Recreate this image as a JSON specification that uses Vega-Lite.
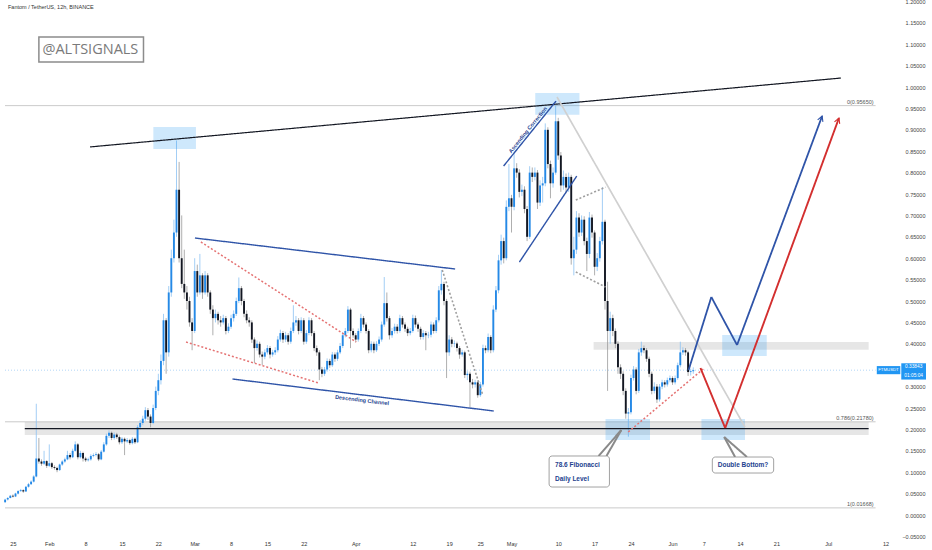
{
  "$schema": "https://vega.github.io/schema/vega-lite/v6.json",
  "description": "FTM/USDT 12h candles with trading annotations",
  "width": 932,
  "height": 538,
  "autosize": {"type": "none"},
  "padding": {"left": 0, "top": 0, "right": 0, "bottom": 12},
  "background": "white",
  "config": {
    "view": {"stroke": null},
    "font": "Liberation Sans",
    "axis": {"labelOverlap": false, "labelFlush": false, "labelBound": false}
  },
  "resolve": {"scale": {"color": "independent", "strokeDash": "independent", "strokeWidth": "independent"}},
  "datasets": {
    "candles": [
      {"t":"2021-01-23T12:00","o":0.030,"h":0.038,"l":0.028,"c":0.036},
      {"t":"2021-01-24T00:00","o":0.036,"h":0.042,"l":0.034,"c":0.040},
      {"t":"2021-01-24T12:00","o":0.040,"h":0.047,"l":0.039,"c":0.045},
      {"t":"2021-01-25T00:00","o":0.045,"h":0.048,"l":0.041,"c":0.043},
      {"t":"2021-01-25T12:00","o":0.043,"h":0.052,"l":0.042,"c":0.050},
      {"t":"2021-01-26T00:00","o":0.050,"h":0.058,"l":0.048,"c":0.056},
      {"t":"2021-01-26T12:00","o":0.056,"h":0.061,"l":0.054,"c":0.058},
      {"t":"2021-01-27T00:00","o":0.058,"h":0.060,"l":0.052,"c":0.055},
      {"t":"2021-01-27T12:00","o":0.055,"h":0.068,"l":0.054,"c":0.066},
      {"t":"2021-01-28T00:00","o":0.066,"h":0.075,"l":0.064,"c":0.072},
      {"t":"2021-01-28T12:00","o":0.072,"h":0.081,"l":0.070,"c":0.078},
      {"t":"2021-01-29T00:00","o":0.078,"h":0.093,"l":0.076,"c":0.090},
      {"t":"2021-01-29T12:00","o":0.090,"h":0.260,"l":0.088,"c":0.132},
      {"t":"2021-01-30T00:00","o":0.132,"h":0.180,"l":0.120,"c":0.125},
      {"t":"2021-01-30T12:00","o":0.125,"h":0.130,"l":0.115,"c":0.120},
      {"t":"2021-01-31T00:00","o":0.120,"h":0.150,"l":0.117,"c":0.126},
      {"t":"2021-01-31T12:00","o":0.126,"h":0.128,"l":0.110,"c":0.115},
      {"t":"2021-02-01T00:00","o":0.115,"h":0.165,"l":0.112,"c":0.121},
      {"t":"2021-02-01T12:00","o":0.121,"h":0.124,"l":0.108,"c":0.112},
      {"t":"2021-02-02T00:00","o":0.112,"h":0.116,"l":0.106,"c":0.110},
      {"t":"2021-02-02T12:00","o":0.110,"h":0.113,"l":0.100,"c":0.105},
      {"t":"2021-02-03T00:00","o":0.105,"h":0.120,"l":0.103,"c":0.118},
      {"t":"2021-02-03T12:00","o":0.118,"h":0.128,"l":0.115,"c":0.125},
      {"t":"2021-02-04T00:00","o":0.125,"h":0.134,"l":0.122,"c":0.130},
      {"t":"2021-02-04T12:00","o":0.130,"h":0.150,"l":0.128,"c":0.140},
      {"t":"2021-02-05T00:00","o":0.140,"h":0.145,"l":0.130,"c":0.135},
      {"t":"2021-02-05T12:00","o":0.135,"h":0.155,"l":0.133,"c":0.150},
      {"t":"2021-02-06T00:00","o":0.150,"h":0.172,"l":0.148,"c":0.165},
      {"t":"2021-02-06T12:00","o":0.165,"h":0.168,"l":0.130,"c":0.135},
      {"t":"2021-02-07T00:00","o":0.135,"h":0.150,"l":0.132,"c":0.145},
      {"t":"2021-02-07T12:00","o":0.145,"h":0.148,"l":0.125,"c":0.132},
      {"t":"2021-02-08T00:00","o":0.132,"h":0.136,"l":0.124,"c":0.128},
      {"t":"2021-02-08T12:00","o":0.128,"h":0.134,"l":0.125,"c":0.130},
      {"t":"2021-02-09T00:00","o":0.130,"h":0.142,"l":0.127,"c":0.138},
      {"t":"2021-02-09T12:00","o":0.138,"h":0.144,"l":0.135,"c":0.140},
      {"t":"2021-02-10T00:00","o":0.140,"h":0.147,"l":0.137,"c":0.142},
      {"t":"2021-02-10T12:00","o":0.142,"h":0.145,"l":0.126,"c":0.130},
      {"t":"2021-02-11T00:00","o":0.130,"h":0.152,"l":0.128,"c":0.148},
      {"t":"2021-02-11T12:00","o":0.148,"h":0.170,"l":0.146,"c":0.165},
      {"t":"2021-02-12T00:00","o":0.165,"h":0.190,"l":0.162,"c":0.185},
      {"t":"2021-02-12T12:00","o":0.185,"h":0.198,"l":0.180,"c":0.192},
      {"t":"2021-02-13T00:00","o":0.192,"h":0.195,"l":0.175,"c":0.180},
      {"t":"2021-02-13T12:00","o":0.180,"h":0.193,"l":0.176,"c":0.188},
      {"t":"2021-02-14T00:00","o":0.188,"h":0.192,"l":0.178,"c":0.182},
      {"t":"2021-02-14T12:00","o":0.182,"h":0.186,"l":0.165,"c":0.170},
      {"t":"2021-02-15T00:00","o":0.170,"h":0.182,"l":0.166,"c":0.178},
      {"t":"2021-02-15T12:00","o":0.178,"h":0.181,"l":0.140,"c":0.172},
      {"t":"2021-02-16T00:00","o":0.172,"h":0.180,"l":0.168,"c":0.175},
      {"t":"2021-02-16T12:00","o":0.175,"h":0.178,"l":0.164,"c":0.168},
      {"t":"2021-02-17T00:00","o":0.168,"h":0.182,"l":0.165,"c":0.178},
      {"t":"2021-02-17T12:00","o":0.178,"h":0.181,"l":0.166,"c":0.170},
      {"t":"2021-02-18T00:00","o":0.170,"h":0.210,"l":0.168,"c":0.205},
      {"t":"2021-02-18T12:00","o":0.205,"h":0.222,"l":0.200,"c":0.215},
      {"t":"2021-02-19T00:00","o":0.215,"h":0.232,"l":0.210,"c":0.225},
      {"t":"2021-02-19T12:00","o":0.225,"h":0.252,"l":0.220,"c":0.245},
      {"t":"2021-02-20T00:00","o":0.245,"h":0.250,"l":0.222,"c":0.230},
      {"t":"2021-02-20T12:00","o":0.230,"h":0.235,"l":0.205,"c":0.215},
      {"t":"2021-02-21T00:00","o":0.215,"h":0.258,"l":0.212,"c":0.250},
      {"t":"2021-02-21T12:00","o":0.250,"h":0.300,"l":0.245,"c":0.290},
      {"t":"2021-02-22T00:00","o":0.290,"h":0.330,"l":0.280,"c":0.315},
      {"t":"2021-02-22T12:00","o":0.315,"h":0.375,"l":0.305,"c":0.360},
      {"t":"2021-02-23T00:00","o":0.360,"h":0.470,"l":0.350,"c":0.455},
      {"t":"2021-02-23T12:00","o":0.455,"h":0.460,"l":0.330,"c":0.380},
      {"t":"2021-02-24T00:00","o":0.380,"h":0.535,"l":0.370,"c":0.520},
      {"t":"2021-02-24T12:00","o":0.520,"h":0.620,"l":0.510,"c":0.600},
      {"t":"2021-02-25T00:00","o":0.600,"h":0.690,"l":0.590,"c":0.660},
      {"t":"2021-02-25T12:00","o":0.660,"h":0.875,"l":0.650,"c":0.760},
      {"t":"2021-02-26T00:00","o":0.760,"h":0.825,"l":0.590,"c":0.600},
      {"t":"2021-02-26T12:00","o":0.600,"h":0.700,"l":0.530,"c":0.540},
      {"t":"2021-02-27T00:00","o":0.540,"h":0.620,"l":0.505,"c":0.520},
      {"t":"2021-02-27T12:00","o":0.520,"h":0.535,"l":0.480,"c":0.500},
      {"t":"2021-02-28T00:00","o":0.500,"h":0.510,"l":0.440,"c":0.450},
      {"t":"2021-02-28T12:00","o":0.450,"h":0.460,"l":0.385,"c":0.430},
      {"t":"2021-03-01T00:00","o":0.430,"h":0.600,"l":0.425,"c":0.570},
      {"t":"2021-03-01T12:00","o":0.570,"h":0.585,"l":0.510,"c":0.520},
      {"t":"2021-03-02T00:00","o":0.520,"h":0.610,"l":0.515,"c":0.560},
      {"t":"2021-03-02T12:00","o":0.560,"h":0.565,"l":0.505,"c":0.520},
      {"t":"2021-03-03T00:00","o":0.520,"h":0.570,"l":0.515,"c":0.560},
      {"t":"2021-03-03T12:00","o":0.560,"h":0.565,"l":0.510,"c":0.520},
      {"t":"2021-03-04T00:00","o":0.520,"h":0.525,"l":0.470,"c":0.480},
      {"t":"2021-03-04T12:00","o":0.480,"h":0.490,"l":0.420,"c":0.460},
      {"t":"2021-03-05T00:00","o":0.460,"h":0.480,"l":0.450,"c":0.470},
      {"t":"2021-03-05T12:00","o":0.470,"h":0.475,"l":0.445,"c":0.455},
      {"t":"2021-03-06T00:00","o":0.455,"h":0.465,"l":0.440,"c":0.450},
      {"t":"2021-03-06T12:00","o":0.450,"h":0.468,"l":0.445,"c":0.460},
      {"t":"2021-03-07T00:00","o":0.460,"h":0.465,"l":0.422,"c":0.430},
      {"t":"2021-03-07T12:00","o":0.430,"h":0.448,"l":0.425,"c":0.440},
      {"t":"2021-03-08T00:00","o":0.440,"h":0.468,"l":0.435,"c":0.460},
      {"t":"2021-03-08T12:00","o":0.460,"h":0.478,"l":0.452,"c":0.470},
      {"t":"2021-03-09T00:00","o":0.470,"h":0.508,"l":0.465,"c":0.500},
      {"t":"2021-03-09T12:00","o":0.500,"h":0.555,"l":0.495,"c":0.530},
      {"t":"2021-03-10T00:00","o":0.530,"h":0.535,"l":0.490,"c":0.500},
      {"t":"2021-03-10T12:00","o":0.500,"h":0.505,"l":0.462,"c":0.470},
      {"t":"2021-03-11T00:00","o":0.470,"h":0.478,"l":0.448,"c":0.455},
      {"t":"2021-03-11T12:00","o":0.455,"h":0.462,"l":0.440,"c":0.450},
      {"t":"2021-03-12T00:00","o":0.450,"h":0.455,"l":0.402,"c":0.410},
      {"t":"2021-03-12T12:00","o":0.410,"h":0.415,"l":0.355,"c":0.390},
      {"t":"2021-03-13T00:00","o":0.390,"h":0.408,"l":0.384,"c":0.400},
      {"t":"2021-03-13T12:00","o":0.400,"h":0.405,"l":0.368,"c":0.375},
      {"t":"2021-03-14T00:00","o":0.375,"h":0.382,"l":0.350,"c":0.370},
      {"t":"2021-03-14T12:00","o":0.370,"h":0.387,"l":0.364,"c":0.380},
      {"t":"2021-03-15T00:00","o":0.380,"h":0.397,"l":0.375,"c":0.390},
      {"t":"2021-03-15T12:00","o":0.390,"h":0.395,"l":0.366,"c":0.375},
      {"t":"2021-03-16T00:00","o":0.375,"h":0.386,"l":0.370,"c":0.380},
      {"t":"2021-03-16T12:00","o":0.380,"h":0.392,"l":0.374,"c":0.385},
      {"t":"2021-03-17T00:00","o":0.385,"h":0.418,"l":0.380,"c":0.410},
      {"t":"2021-03-17T12:00","o":0.410,"h":0.433,"l":0.405,"c":0.425},
      {"t":"2021-03-18T00:00","o":0.425,"h":0.430,"l":0.402,"c":0.410},
      {"t":"2021-03-18T12:00","o":0.410,"h":0.428,"l":0.404,"c":0.420},
      {"t":"2021-03-19T00:00","o":0.420,"h":0.425,"l":0.398,"c":0.405},
      {"t":"2021-03-19T12:00","o":0.405,"h":0.438,"l":0.400,"c":0.430},
      {"t":"2021-03-20T00:00","o":0.430,"h":0.490,"l":0.425,"c":0.450},
      {"t":"2021-03-20T12:00","o":0.450,"h":0.465,"l":0.442,"c":0.455},
      {"t":"2021-03-21T00:00","o":0.455,"h":0.460,"l":0.422,"c":0.430},
      {"t":"2021-03-21T12:00","o":0.430,"h":0.462,"l":0.425,"c":0.455},
      {"t":"2021-03-22T00:00","o":0.455,"h":0.460,"l":0.398,"c":0.405},
      {"t":"2021-03-22T12:00","o":0.405,"h":0.432,"l":0.400,"c":0.425},
      {"t":"2021-03-23T00:00","o":0.425,"h":0.462,"l":0.420,"c":0.455},
      {"t":"2021-03-23T12:00","o":0.455,"h":0.460,"l":0.418,"c":0.425},
      {"t":"2021-03-24T00:00","o":0.425,"h":0.430,"l":0.383,"c":0.390},
      {"t":"2021-03-24T12:00","o":0.390,"h":0.396,"l":0.372,"c":0.380},
      {"t":"2021-03-25T00:00","o":0.380,"h":0.385,"l":0.315,"c":0.340},
      {"t":"2021-03-25T12:00","o":0.340,"h":0.346,"l":0.322,"c":0.330},
      {"t":"2021-03-26T00:00","o":0.330,"h":0.346,"l":0.325,"c":0.340},
      {"t":"2021-03-26T12:00","o":0.340,"h":0.366,"l":0.335,"c":0.360},
      {"t":"2021-03-27T00:00","o":0.360,"h":0.365,"l":0.344,"c":0.350},
      {"t":"2021-03-27T12:00","o":0.350,"h":0.381,"l":0.346,"c":0.375},
      {"t":"2021-03-28T00:00","o":0.375,"h":0.380,"l":0.358,"c":0.365},
      {"t":"2021-03-28T12:00","o":0.365,"h":0.386,"l":0.360,"c":0.380},
      {"t":"2021-03-29T00:00","o":0.380,"h":0.402,"l":0.376,"c":0.395},
      {"t":"2021-03-29T12:00","o":0.395,"h":0.427,"l":0.390,"c":0.420},
      {"t":"2021-03-30T00:00","o":0.420,"h":0.437,"l":0.415,"c":0.430},
      {"t":"2021-03-30T12:00","o":0.430,"h":0.488,"l":0.425,"c":0.480},
      {"t":"2021-03-31T00:00","o":0.480,"h":0.484,"l":0.390,"c":0.430},
      {"t":"2021-03-31T12:00","o":0.430,"h":0.436,"l":0.414,"c":0.420},
      {"t":"2021-04-01T00:00","o":0.420,"h":0.425,"l":0.404,"c":0.410},
      {"t":"2021-04-01T12:00","o":0.410,"h":0.436,"l":0.405,"c":0.430},
      {"t":"2021-04-02T00:00","o":0.430,"h":0.470,"l":0.425,"c":0.460},
      {"t":"2021-04-02T12:00","o":0.460,"h":0.465,"l":0.438,"c":0.445},
      {"t":"2021-04-03T00:00","o":0.445,"h":0.450,"l":0.424,"c":0.430},
      {"t":"2021-04-03T12:00","o":0.430,"h":0.434,"l":0.378,"c":0.385},
      {"t":"2021-04-04T00:00","o":0.385,"h":0.406,"l":0.380,"c":0.400},
      {"t":"2021-04-04T12:00","o":0.400,"h":0.405,"l":0.378,"c":0.385},
      {"t":"2021-04-05T00:00","o":0.385,"h":0.406,"l":0.381,"c":0.400},
      {"t":"2021-04-05T12:00","o":0.400,"h":0.417,"l":0.395,"c":0.410},
      {"t":"2021-04-06T00:00","o":0.410,"h":0.452,"l":0.405,"c":0.445},
      {"t":"2021-04-06T12:00","o":0.445,"h":0.556,"l":0.440,"c":0.495},
      {"t":"2021-04-07T00:00","o":0.495,"h":0.520,"l":0.452,"c":0.460},
      {"t":"2021-04-07T12:00","o":0.460,"h":0.465,"l":0.410,"c":0.420},
      {"t":"2021-04-08T00:00","o":0.420,"h":0.437,"l":0.414,"c":0.430},
      {"t":"2021-04-08T12:00","o":0.430,"h":0.447,"l":0.424,"c":0.440},
      {"t":"2021-04-09T00:00","o":0.440,"h":0.446,"l":0.424,"c":0.430},
      {"t":"2021-04-09T12:00","o":0.430,"h":0.468,"l":0.426,"c":0.460},
      {"t":"2021-04-10T00:00","o":0.460,"h":0.465,"l":0.438,"c":0.445},
      {"t":"2021-04-10T12:00","o":0.445,"h":0.450,"l":0.428,"c":0.435},
      {"t":"2021-04-11T00:00","o":0.435,"h":0.440,"l":0.418,"c":0.425},
      {"t":"2021-04-11T12:00","o":0.425,"h":0.437,"l":0.420,"c":0.430},
      {"t":"2021-04-12T00:00","o":0.430,"h":0.468,"l":0.426,"c":0.460},
      {"t":"2021-04-12T12:00","o":0.460,"h":0.466,"l":0.438,"c":0.445},
      {"t":"2021-04-13T00:00","o":0.445,"h":0.450,"l":0.428,"c":0.435},
      {"t":"2021-04-13T12:00","o":0.435,"h":0.440,"l":0.410,"c":0.416},
      {"t":"2021-04-14T00:00","o":0.416,"h":0.432,"l":0.410,"c":0.425},
      {"t":"2021-04-14T12:00","o":0.425,"h":0.430,"l":0.385,"c":0.420},
      {"t":"2021-04-15T00:00","o":0.420,"h":0.428,"l":0.413,"c":0.421},
      {"t":"2021-04-15T12:00","o":0.421,"h":0.452,"l":0.415,"c":0.445},
      {"t":"2021-04-16T00:00","o":0.445,"h":0.450,"l":0.424,"c":0.430},
      {"t":"2021-04-16T12:00","o":0.430,"h":0.462,"l":0.425,"c":0.455},
      {"t":"2021-04-17T00:00","o":0.455,"h":0.535,"l":0.450,"c":0.525},
      {"t":"2021-04-17T12:00","o":0.525,"h":0.572,"l":0.515,"c":0.540},
      {"t":"2021-04-18T00:00","o":0.540,"h":0.545,"l":0.490,"c":0.500},
      {"t":"2021-04-18T12:00","o":0.500,"h":0.505,"l":0.320,"c":0.380},
      {"t":"2021-04-19T00:00","o":0.380,"h":0.420,"l":0.372,"c":0.410},
      {"t":"2021-04-19T12:00","o":0.410,"h":0.416,"l":0.392,"c":0.400},
      {"t":"2021-04-20T00:00","o":0.400,"h":0.408,"l":0.392,"c":0.401},
      {"t":"2021-04-20T12:00","o":0.401,"h":0.405,"l":0.382,"c":0.390},
      {"t":"2021-04-21T00:00","o":0.390,"h":0.395,"l":0.365,"c":0.375},
      {"t":"2021-04-21T12:00","o":0.375,"h":0.386,"l":0.370,"c":0.380},
      {"t":"2021-04-22T00:00","o":0.380,"h":0.384,"l":0.320,"c":0.327},
      {"t":"2021-04-22T12:00","o":0.327,"h":0.336,"l":0.315,"c":0.330},
      {"t":"2021-04-23T00:00","o":0.330,"h":0.335,"l":0.250,"c":0.310},
      {"t":"2021-04-23T12:00","o":0.310,"h":0.318,"l":0.296,"c":0.305},
      {"t":"2021-04-24T00:00","o":0.305,"h":0.316,"l":0.298,"c":0.310},
      {"t":"2021-04-24T12:00","o":0.310,"h":0.314,"l":0.274,"c":0.280},
      {"t":"2021-04-25T00:00","o":0.280,"h":0.311,"l":0.276,"c":0.305},
      {"t":"2021-04-25T12:00","o":0.305,"h":0.398,"l":0.300,"c":0.390},
      {"t":"2021-04-26T00:00","o":0.390,"h":0.396,"l":0.378,"c":0.385},
      {"t":"2021-04-26T12:00","o":0.385,"h":0.424,"l":0.380,"c":0.416},
      {"t":"2021-04-27T00:00","o":0.416,"h":0.420,"l":0.378,"c":0.385},
      {"t":"2021-04-27T12:00","o":0.385,"h":0.490,"l":0.380,"c":0.480},
      {"t":"2021-04-28T00:00","o":0.480,"h":0.535,"l":0.474,"c":0.525},
      {"t":"2021-04-28T12:00","o":0.525,"h":0.608,"l":0.518,"c":0.595},
      {"t":"2021-04-29T00:00","o":0.595,"h":0.655,"l":0.585,"c":0.640},
      {"t":"2021-04-29T12:00","o":0.640,"h":0.648,"l":0.588,"c":0.600},
      {"t":"2021-04-30T00:00","o":0.600,"h":0.735,"l":0.595,"c":0.720},
      {"t":"2021-04-30T12:00","o":0.720,"h":0.820,"l":0.710,"c":0.740},
      {"t":"2021-05-01T00:00","o":0.740,"h":0.748,"l":0.660,"c":0.720},
      {"t":"2021-05-01T12:00","o":0.720,"h":0.845,"l":0.712,"c":0.810},
      {"t":"2021-05-02T00:00","o":0.810,"h":0.822,"l":0.788,"c":0.800},
      {"t":"2021-05-02T12:00","o":0.800,"h":0.808,"l":0.742,"c":0.755},
      {"t":"2021-05-03T00:00","o":0.755,"h":0.772,"l":0.745,"c":0.760},
      {"t":"2021-05-03T12:00","o":0.760,"h":0.768,"l":0.705,"c":0.715},
      {"t":"2021-05-04T00:00","o":0.715,"h":0.722,"l":0.640,"c":0.650},
      {"t":"2021-05-04T12:00","o":0.650,"h":0.815,"l":0.645,"c":0.800},
      {"t":"2021-05-05T00:00","o":0.800,"h":0.812,"l":0.778,"c":0.790},
      {"t":"2021-05-05T12:00","o":0.790,"h":0.812,"l":0.782,"c":0.800},
      {"t":"2021-05-06T00:00","o":0.800,"h":0.806,"l":0.715,"c":0.730},
      {"t":"2021-05-06T12:00","o":0.730,"h":0.782,"l":0.722,"c":0.770},
      {"t":"2021-05-07T00:00","o":0.770,"h":0.790,"l":0.730,"c":0.775},
      {"t":"2021-05-07T12:00","o":0.775,"h":0.915,"l":0.768,"c":0.900},
      {"t":"2021-05-08T00:00","o":0.900,"h":0.906,"l":0.810,"c":0.820},
      {"t":"2021-05-08T12:00","o":0.820,"h":0.828,"l":0.740,"c":0.775},
      {"t":"2021-05-09T00:00","o":0.775,"h":0.812,"l":0.765,"c":0.800},
      {"t":"2021-05-09T12:00","o":0.800,"h":0.9565,"l":0.795,"c":0.920},
      {"t":"2021-05-10T00:00","o":0.920,"h":0.928,"l":0.830,"c":0.840},
      {"t":"2021-05-10T12:00","o":0.840,"h":0.848,"l":0.755,"c":0.770},
      {"t":"2021-05-11T00:00","o":0.770,"h":0.805,"l":0.760,"c":0.790},
      {"t":"2021-05-11T12:00","o":0.790,"h":0.798,"l":0.752,"c":0.765},
      {"t":"2021-05-12T00:00","o":0.765,"h":0.800,"l":0.755,"c":0.790},
      {"t":"2021-05-12T12:00","o":0.790,"h":0.795,"l":0.585,"c":0.600},
      {"t":"2021-05-13T00:00","o":0.600,"h":0.650,"l":0.560,"c":0.620},
      {"t":"2021-05-13T12:00","o":0.620,"h":0.710,"l":0.610,"c":0.695},
      {"t":"2021-05-14T00:00","o":0.695,"h":0.705,"l":0.650,"c":0.660},
      {"t":"2021-05-14T12:00","o":0.660,"h":0.700,"l":0.652,"c":0.690},
      {"t":"2021-05-15T00:00","o":0.690,"h":0.698,"l":0.630,"c":0.640},
      {"t":"2021-05-15T12:00","o":0.640,"h":0.648,"l":0.570,"c":0.610},
      {"t":"2021-05-16T00:00","o":0.610,"h":0.708,"l":0.600,"c":0.695},
      {"t":"2021-05-16T12:00","o":0.695,"h":0.702,"l":0.648,"c":0.660},
      {"t":"2021-05-17T00:00","o":0.660,"h":0.665,"l":0.560,"c":0.580},
      {"t":"2021-05-17T12:00","o":0.580,"h":0.612,"l":0.570,"c":0.600},
      {"t":"2021-05-18T00:00","o":0.600,"h":0.650,"l":0.592,"c":0.640},
      {"t":"2021-05-18T12:00","o":0.640,"h":0.766,"l":0.632,"c":0.685},
      {"t":"2021-05-19T00:00","o":0.685,"h":0.690,"l":0.480,"c":0.500},
      {"t":"2021-05-19T12:00","o":0.500,"h":0.545,"l":0.290,"c":0.430},
      {"t":"2021-05-20T00:00","o":0.430,"h":0.475,"l":0.400,"c":0.460},
      {"t":"2021-05-20T12:00","o":0.460,"h":0.468,"l":0.418,"c":0.430},
      {"t":"2021-05-21T00:00","o":0.430,"h":0.436,"l":0.390,"c":0.400},
      {"t":"2021-05-21T12:00","o":0.400,"h":0.406,"l":0.330,"c":0.345},
      {"t":"2021-05-22T00:00","o":0.345,"h":0.352,"l":0.318,"c":0.330},
      {"t":"2021-05-22T12:00","o":0.330,"h":0.336,"l":0.280,"c":0.290},
      {"t":"2021-05-23T00:00","o":0.290,"h":0.296,"l":0.225,"c":0.237},
      {"t":"2021-05-23T12:00","o":0.237,"h":0.250,"l":0.183,"c":0.240},
      {"t":"2021-05-24T00:00","o":0.240,"h":0.328,"l":0.235,"c":0.320},
      {"t":"2021-05-24T12:00","o":0.320,"h":0.348,"l":0.314,"c":0.340},
      {"t":"2021-05-25T00:00","o":0.340,"h":0.345,"l":0.282,"c":0.290},
      {"t":"2021-05-25T12:00","o":0.290,"h":0.388,"l":0.285,"c":0.380},
      {"t":"2021-05-26T00:00","o":0.380,"h":0.405,"l":0.372,"c":0.390},
      {"t":"2021-05-26T12:00","o":0.390,"h":0.396,"l":0.378,"c":0.385},
      {"t":"2021-05-27T00:00","o":0.385,"h":0.390,"l":0.358,"c":0.365},
      {"t":"2021-05-27T12:00","o":0.365,"h":0.370,"l":0.322,"c":0.330},
      {"t":"2021-05-28T00:00","o":0.330,"h":0.335,"l":0.282,"c":0.290},
      {"t":"2021-05-28T12:00","o":0.290,"h":0.310,"l":0.284,"c":0.300},
      {"t":"2021-05-29T00:00","o":0.300,"h":0.306,"l":0.262,"c":0.270},
      {"t":"2021-05-29T12:00","o":0.270,"h":0.306,"l":0.265,"c":0.300},
      {"t":"2021-05-30T00:00","o":0.300,"h":0.316,"l":0.294,"c":0.310},
      {"t":"2021-05-30T12:00","o":0.310,"h":0.315,"l":0.298,"c":0.305},
      {"t":"2021-05-31T00:00","o":0.305,"h":0.321,"l":0.300,"c":0.315},
      {"t":"2021-05-31T12:00","o":0.315,"h":0.326,"l":0.310,"c":0.320},
      {"t":"2021-06-01T00:00","o":0.320,"h":0.324,"l":0.304,"c":0.310},
      {"t":"2021-06-01T12:00","o":0.310,"h":0.326,"l":0.305,"c":0.320},
      {"t":"2021-06-02T00:00","o":0.320,"h":0.356,"l":0.316,"c":0.350},
      {"t":"2021-06-02T12:00","o":0.350,"h":0.405,"l":0.345,"c":0.380},
      {"t":"2021-06-03T00:00","o":0.380,"h":0.392,"l":0.374,"c":0.385},
      {"t":"2021-06-03T12:00","o":0.385,"h":0.390,"l":0.372,"c":0.380},
      {"t":"2021-06-04T00:00","o":0.380,"h":0.384,"l":0.325,"c":0.334},
      {"t":"2021-06-04T12:00","o":0.334,"h":0.342,"l":0.326,"c":0.336},
      {"t":"2021-06-05T00:00","o":0.336,"h":0.345,"l":0.330,"c":0.3384}
    ],
    "segments": [
      {"kind":"trend","t":"2021-02-08T20:34","v":0.860,"t2":"2021-07-03T10:17","v2":1.021},
      {"kind":"support","t":"2021-01-27T06:51","v":0.202,"t2":"2021-07-08T18:17","v2":0.202},
      {"kind":"fib","t":"2021-01-23T11:26","v":0.9565,"t2":"2021-07-10T02:24","v2":0.9565},
      {"kind":"fib","t":"2021-01-23T11:26","v":0.2178,"t2":"2021-07-10T02:24","v2":0.2178},
      {"kind":"fib","t":"2021-01-23T11:26","v":0.01668,"t2":"2021-07-10T02:24","v2":0.01668},
      {"kind":"price","t":"2021-01-23T11:26","v":0.3384,"t2":"2021-07-10T02:24","v2":0.3384},
      {"kind":"channel","t":"2021-03-01T01:10","v":0.6472,"t2":"2021-04-20T03:26","v2":0.5748},
      {"kind":"channel","t":"2021-03-08T06:51","v":0.3178,"t2":"2021-04-27T13:43","v2":0.2430},
      {"kind":"channel","t":"2021-04-29T11:26","v":0.8154,"t2":"2021-05-09T13:43","v2":0.9670},
      {"kind":"channel","t":"2021-05-02T12:34","v":0.5910,"t2":"2021-05-13T13:43","v2":0.7920},
      {"kind":"redDot","t":"2021-03-02T04:34","v":0.6379,"t2":"2021-04-01T02:24","v2":0.4042},
      {"kind":"redDot","t":"2021-02-27T08:00","v":0.4042,"t2":"2021-03-24T20:34","v2":0.3084},
      {"kind":"redDot","t":"2021-05-23T11:26","v":0.1940,"t2":"2021-06-07T03:26","v2":0.3435},
      {"kind":"grayDot","t":"2021-04-17T16:00","v":0.5724,"t2":"2021-04-25T11:26","v2":0.2804},
      {"kind":"grayDot","t":"2021-05-13T09:10","v":0.7360,"t2":"2021-05-19T02:24","v2":0.7660},
      {"kind":"grayDot","t":"2021-05-13T09:10","v":0.5678,"t2":"2021-05-19T02:24","v2":0.5327},
      {"kind":"grayThin","t":"2021-05-09T18:17","v":0.9766,"t2":"2021-06-14T22:51","v2":0.2056},
      {"kind":"projBlue","t":"2021-06-04T02:24","v":0.3388,"t2":"2021-06-08T11:26","v2":0.5093},
      {"kind":"projBlue","t":"2021-06-08T11:26","v":0.5093,"t2":"2021-06-13T10:17","v2":0.3972},
      {"kind":"projBlue","t":"2021-06-13T10:17","v":0.3972,"t2":"2021-06-29T19:26","v2":0.9322},
      {"kind":"projRed","t":"2021-06-06T09:09","v":0.3435,"t2":"2021-06-11T03:26","v2":0.2033},
      {"kind":"projRed","t":"2021-06-11T03:26","v":0.2033,"t2":"2021-07-03T01:10","v2":0.9276},
      {"kind":"callout","t":"2021-05-22T03:26","v":0.1986,"t2":"2021-05-17T18:17","v2":0.1379},
      {"kind":"callout","t":"2021-05-22T03:26","v":0.1986,"t2":"2021-05-19T06:51","v2":0.1379},
      {"kind":"callout","t":"2021-06-10T22:51","v":0.1822,"t2":"2021-06-13T01:10","v2":0.1355},
      {"kind":"callout","t":"2021-06-10T22:51","v":0.1822,"t2":"2021-06-15T08:00","v2":0.1355}
    ],
    "arrows": [
      {"kind":"projBlue","t":"2021-06-29T19:26","v":0.9322},
      {"kind":"projRed","t":"2021-07-03T01:10","v":0.9276}
    ],
    "boxes": [
      {"kind":"band","t":"2021-01-27T06:51","v":0.187,"t2":"2021-07-08T18:17","v2":0.2173},
      {"kind":"band","t":"2021-05-16T19:25","v":0.386,"t2":"2021-07-08T18:17","v2":0.404},
      {"kind":"hl","t":"2021-02-21T01:00","v":0.855,"t2":"2021-03-01T05:45","v2":0.9065},
      {"kind":"hl","t":"2021-05-05T13:40","v":0.935,"t2":"2021-05-14T02:00","v2":0.986},
      {"kind":"hl","t":"2021-05-19T02:24","v":0.1752,"t2":"2021-05-27T16:00","v2":0.2243},
      {"kind":"hl","t":"2021-06-06T13:40","v":0.1752,"t2":"2021-06-14T22:51","v2":0.2243},
      {"kind":"hl","t":"2021-06-10T13:40","v":0.3715,"t2":"2021-06-19T03:26","v2":0.4206},
      {"kind":"logo","t":"2021-01-30T00:00","v":1.0584,"t2":"2021-02-19T03:25","v2":1.1168},
      {"kind":"callout","t":"2021-05-08T05:43","v":0.0654,"t2":"2021-05-19T20:34","v2":0.1379},
      {"kind":"callout","t":"2021-06-08T16:00","v":0.0981,"t2":"2021-06-20T11:26","v2":0.1355},
      {"kind":"tag","t":"2021-07-10T08:00","v":0.329,"t2":"2021-07-14T20:38","v2":0.348},
      {"kind":"tag","t":"2021-07-15T01:10","v":0.3165,"t2":"2021-07-19T19:26","v2":0.3545}
    ],
    "texts": [
      {"kind":"title","t":"2021-01-24T01:08","v":1.187,"text":"Fantom / TetherUS, 12h, BINANCE"},
      {"kind":"logo","t":"2021-02-08T22:00","v":1.0876,"text":"@ALTSIGNALS"},
      {"kind":"fib","t":"2021-07-09T17:09","v":0.9565,"text":"0(0.95650)"},
      {"kind":"fib","t":"2021-07-09T17:09","v":0.2178,"text":"0.786(0.21780)"},
      {"kind":"fib","t":"2021-07-09T17:09","v":0.01668,"text":"1(0.01668)"},
      {"kind":"asc","t":"2021-05-04T03:00","v":0.900,"text":"Ascending Correction"},
      {"kind":"desc","t":"2021-04-02T05:43","v":0.2687,"text":"Descending Channel"},
      {"kind":"noteLeft","t":"2021-05-09T09:10","v":0.1168,"text":"78.6 Fibonacci"},
      {"kind":"noteLeft","t":"2021-05-09T09:10","v":0.0841,"text":"Daily Level"},
      {"kind":"noteCenter","t":"2021-06-14T13:43","v":0.1168,"text":"Double Bottom?"},
      {"kind":"tagSmall","t":"2021-07-12T14:00","v":0.3388,"text":"FTMUSDT"},
      {"kind":"tag","t":"2021-07-17T10:17","v":0.3450,"text":"0.33843"},
      {"kind":"tag","t":"2021-07-17T10:17","v":0.3258,"text":"01:05:04"}
    ]
  },
  "layer": [
    {
      "data": {"name": "boxes"},
      "transform": [{"filter": "datum.kind == 'band'"}],
      "mark": {"type": "rect", "fill": "#d6d6d6", "opacity": 0.6},
      "encoding": {
        "x": {
          "field": "t",
          "type": "temporal",
          "scale": {"domain": [{"year": 2021, "month": 1, "date": 23, "hours": 11, "minutes": 26}, {"year": 2021, "month": 7, "date": 20}]},
          "axis": {
            "title": null,
            "values": [
              {"year": 2021, "month": 1, "date": 25}, {"year": 2021, "month": 2, "date": 1},
              {"year": 2021, "month": 2, "date": 8}, {"year": 2021, "month": 2, "date": 15},
              {"year": 2021, "month": 2, "date": 22}, {"year": 2021, "month": 3, "date": 1},
              {"year": 2021, "month": 3, "date": 8}, {"year": 2021, "month": 3, "date": 15},
              {"year": 2021, "month": 3, "date": 22}, {"year": 2021, "month": 4, "date": 1},
              {"year": 2021, "month": 4, "date": 12}, {"year": 2021, "month": 4, "date": 19},
              {"year": 2021, "month": 4, "date": 25}, {"year": 2021, "month": 5, "date": 1},
              {"year": 2021, "month": 5, "date": 10}, {"year": 2021, "month": 5, "date": 17},
              {"year": 2021, "month": 5, "date": 24}, {"year": 2021, "month": 6, "date": 1},
              {"year": 2021, "month": 6, "date": 7}, {"year": 2021, "month": 6, "date": 14},
              {"year": 2021, "month": 6, "date": 21}, {"year": 2021, "month": 7, "date": 1},
              {"year": 2021, "month": 7, "date": 12}
            ],
            "tickCount": 40,
            "labelExpr": "date(datum.value) == 1 ? timeFormat(datum.value, '%b') : timeFormat(datum.value, '%-d')",
            "labelFontSize": 5.5,
            "labelColor": "#333333",
            "labelPadding": 3,
            "labelOverlap": false,
            "labelFlush": false,
            "ticks": false,
            "domain": false,
            "grid": false
          }
        },
        "x2": {"field": "t2"},
        "y": {
          "field": "v",
          "type": "quantitative",
          "scale": {"domain": [-0.0537, 1.2033], "nice": false, "zero": false},
          "axis": {
            "title": null,
            "orient": "right",
            "values": [-0.05, 0, 0.05, 0.1, 0.15, 0.2, 0.25, 0.3, 0.35, 0.4, 0.45, 0.5, 0.55, 0.6, 0.65, 0.7, 0.75, 0.8, 0.85, 0.9, 0.95, 1, 1.05, 1.1, 1.15, 1.2],
            "tickCount": 40,
            "format": ".5f",
            "labelAlign": "right",
            "labelPadding": -7,
            "labelFontSize": 5.5,
            "labelColor": "#444444",
            "labelOverlap": false,
            "labelFlush": false,
            "ticks": false,
            "domain": false,
            "grid": false
          }
        },
        "y2": {"field": "v2"}
      }
    },
    {
      "data": {"name": "segments"},
      "transform": [{"filter": "datum.kind == 'fib'"}],
      "mark": {"type": "rule", "color": "#b3b3b3", "strokeWidth": 0.7},
      "encoding": {
        "x": {"field": "t", "type": "temporal"},
        "x2": {"field": "t2"},
        "y": {"field": "v", "type": "quantitative"},
        "y2": {"field": "v2"}
      }
    },
    {
      "data": {"name": "segments"},
      "transform": [{"filter": "datum.kind == 'price'"}],
      "mark": {"type": "rule", "color": "#90c4f4", "strokeWidth": 0.7, "strokeDash": [1, 2]},
      "encoding": {
        "x": {"field": "t", "type": "temporal"},
        "x2": {"field": "t2"},
        "y": {"field": "v", "type": "quantitative"},
        "y2": {"field": "v2"}
      }
    },
    {
      "data": {"name": "candles"},
      "mark": {"type": "rule", "strokeWidth": 0.8},
      "encoding": {
        "x": {"field": "t", "type": "temporal"},
        "y": {"field": "l", "type": "quantitative"},
        "y2": {"field": "h"},
        "color": {"condition": {"test": "datum.c >= datum.o", "value": "#8cc2f2"}, "value": "#9a9a9a"}
      }
    },
    {
      "data": {"name": "candles"},
      "mark": {"type": "bar", "width": 1.9},
      "encoding": {
        "x": {"field": "t", "type": "temporal"},
        "y": {"field": "o", "type": "quantitative"},
        "y2": {"field": "c"},
        "color": {"condition": {"test": "datum.c >= datum.o", "value": "#2589e6"}, "value": "#131722"}
      }
    },
    {
      "data": {"name": "boxes"},
      "transform": [{"filter": "datum.kind == 'hl'"}],
      "mark": {"type": "rect", "fill": "#2196f3", "opacity": 0.22},
      "encoding": {
        "x": {"field": "t", "type": "temporal"},
        "x2": {"field": "t2"},
        "y": {"field": "v", "type": "quantitative"},
        "y2": {"field": "v2"}
      }
    },
    {
      "data": {"name": "segments"},
      "transform": [{"filter": "datum.kind != 'fib' && datum.kind != 'price'"}],
      "mark": {"type": "rule"},
      "encoding": {
        "x": {"field": "t", "type": "temporal"},
        "x2": {"field": "t2"},
        "y": {"field": "v", "type": "quantitative"},
        "y2": {"field": "v2"},
        "color": {
          "field": "kind", "type": "nominal", "legend": null,
          "scale": {
            "domain": ["trend", "support", "channel", "redDot", "grayDot", "grayThin", "projBlue", "projRed", "callout"],
            "range": ["#131722", "#131722", "#2f54a8", "#e57373", "#9e9e9e", "#d0d0d0", "#2f54a8", "#d32f2f", "#8a8a8a"]
          }
        },
        "strokeDash": {
          "field": "kind", "type": "nominal", "legend": null,
          "scale": {
            "domain": ["trend", "support", "channel", "redDot", "grayDot", "grayThin", "projBlue", "projRed", "callout"],
            "range": [[1, 0], [1, 0], [1, 0], [2, 2], [2, 2], [1, 0], [1, 0], [1, 0], [1, 0]]
          }
        },
        "strokeWidth": {
          "field": "kind", "type": "nominal", "legend": null,
          "scale": {
            "domain": ["trend", "support", "channel", "redDot", "grayDot", "grayThin", "projBlue", "projRed", "callout"],
            "range": [1.2, 2, 1.2, 0.8, 0.8, 0.6, 1.1, 1.1, 0.8]
          }
        }
      }
    },
    {
      "data": {"name": "arrows"},
      "transform": [{"filter": "datum.kind == 'projBlue'"}],
      "mark": {"type": "point", "shape": "M-0.7,1.3L0,0L0.7,1.3", "filled": false, "color": "#2f54a8", "strokeWidth": 1.1, "size": 64, "angle": 21, "opacity": 1},
      "encoding": {
        "x": {"field": "t", "type": "temporal"},
        "y": {"field": "v", "type": "quantitative"}
      }
    },
    {
      "data": {"name": "arrows"},
      "transform": [{"filter": "datum.kind == 'projRed'"}],
      "mark": {"type": "point", "shape": "M-0.7,1.3L0,0L0.7,1.3", "filled": false, "color": "#d32f2f", "strokeWidth": 1.1, "size": 64, "angle": 21, "opacity": 1},
      "encoding": {
        "x": {"field": "t", "type": "temporal"},
        "y": {"field": "v", "type": "quantitative"}
      }
    },
    {
      "data": {"name": "boxes"},
      "transform": [{"filter": "datum.kind == 'logo'"}],
      "mark": {"type": "rect", "fill": null, "fillOpacity": 0, "stroke": "#8c8c8c", "strokeWidth": 1.5},
      "encoding": {
        "x": {"field": "t", "type": "temporal"},
        "x2": {"field": "t2"},
        "y": {"field": "v", "type": "quantitative"},
        "y2": {"field": "v2"}
      }
    },
    {
      "data": {"name": "boxes"},
      "transform": [{"filter": "datum.kind == 'callout'"}],
      "mark": {"type": "rect", "fill": "white", "stroke": "#8a8a8a", "strokeWidth": 0.8, "cornerRadius": 3},
      "encoding": {
        "x": {"field": "t", "type": "temporal"},
        "x2": {"field": "t2"},
        "y": {"field": "v", "type": "quantitative"},
        "y2": {"field": "v2"}
      }
    },
    {
      "data": {"name": "boxes"},
      "transform": [{"filter": "datum.kind == 'tag'"}],
      "mark": {"type": "rect", "fill": "#2196f3"},
      "encoding": {
        "x": {"field": "t", "type": "temporal"},
        "x2": {"field": "t2"},
        "y": {"field": "v", "type": "quantitative"},
        "y2": {"field": "v2"}
      }
    },
    {
      "data": {"name": "texts"},
      "transform": [{"filter": "datum.kind == 'title'"}],
      "mark": {"type": "text", "align": "left", "baseline": "middle", "fontSize": 5.5, "color": "#333333"},
      "encoding": {
        "x": {"field": "t", "type": "temporal"},
        "y": {"field": "v", "type": "quantitative"},
        "text": {"field": "text"}
      }
    },
    {
      "data": {"name": "texts"},
      "transform": [{"filter": "datum.kind == 'logo'"}],
      "mark": {"type": "text", "align": "center", "baseline": "middle", "font": "Open Sans", "fontSize": 14.5, "color": "#7a7a7a"},
      "encoding": {
        "x": {"field": "t", "type": "temporal"},
        "y": {"field": "v", "type": "quantitative"},
        "text": {"field": "text"}
      }
    },
    {
      "data": {"name": "texts"},
      "transform": [{"filter": "datum.kind == 'fib'"}],
      "mark": {"type": "text", "align": "right", "baseline": "bottom", "dy": -1, "fontSize": 5.5, "color": "#555555"},
      "encoding": {
        "x": {"field": "t", "type": "temporal"},
        "y": {"field": "v", "type": "quantitative"},
        "text": {"field": "text"}
      }
    },
    {
      "data": {"name": "texts"},
      "transform": [{"filter": "datum.kind == 'asc'"}],
      "mark": {"type": "text", "align": "center", "baseline": "middle", "angle": -51, "fontSize": 5.5, "fontWeight": "bold", "color": "#1e3f8f"},
      "encoding": {
        "x": {"field": "t", "type": "temporal"},
        "y": {"field": "v", "type": "quantitative"},
        "text": {"field": "text"}
      }
    },
    {
      "data": {"name": "texts"},
      "transform": [{"filter": "datum.kind == 'desc'"}],
      "mark": {"type": "text", "align": "center", "baseline": "middle", "angle": 7, "fontSize": 5.5, "fontWeight": "bold", "color": "#1e3f8f"},
      "encoding": {
        "x": {"field": "t", "type": "temporal"},
        "y": {"field": "v", "type": "quantitative"},
        "text": {"field": "text"}
      }
    },
    {
      "data": {"name": "texts"},
      "transform": [{"filter": "datum.kind == 'noteLeft'"}],
      "mark": {"type": "text", "align": "left", "baseline": "middle", "fontSize": 6.5, "fontWeight": "bold", "color": "#1e3f8f"},
      "encoding": {
        "x": {"field": "t", "type": "temporal"},
        "y": {"field": "v", "type": "quantitative"},
        "text": {"field": "text"}
      }
    },
    {
      "data": {"name": "texts"},
      "transform": [{"filter": "datum.kind == 'noteCenter'"}],
      "mark": {"type": "text", "align": "center", "baseline": "middle", "fontSize": 6.5, "fontWeight": "bold", "color": "#1e3f8f"},
      "encoding": {
        "x": {"field": "t", "type": "temporal"},
        "y": {"field": "v", "type": "quantitative"},
        "text": {"field": "text"}
      }
    },
    {
      "data": {"name": "texts"},
      "transform": [{"filter": "datum.kind == 'tag'"}],
      "mark": {"type": "text", "align": "center", "baseline": "middle", "fontSize": 4.8, "color": "white"},
      "encoding": {
        "x": {"field": "t", "type": "temporal"},
        "y": {"field": "v", "type": "quantitative"},
        "text": {"field": "text"}
      }
    },
    {
      "data": {"name": "texts"},
      "transform": [{"filter": "datum.kind == 'tagSmall'"}],
      "mark": {"type": "text", "align": "center", "baseline": "middle", "fontSize": 4.3, "color": "white"},
      "encoding": {
        "x": {"field": "t", "type": "temporal"},
        "y": {"field": "v", "type": "quantitative"},
        "text": {"field": "text"}
      }
    }
  ]
}
